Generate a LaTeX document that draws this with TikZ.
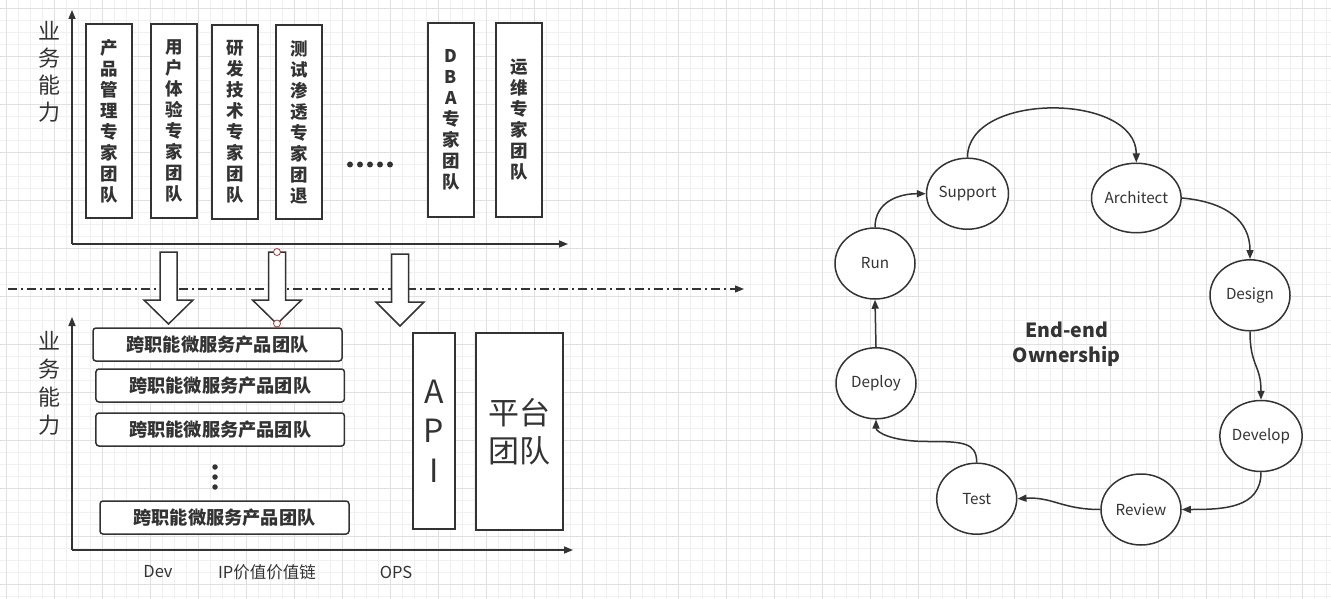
\documentclass[tikz,border=0pt]{standalone}
\usepackage{fontspec}
\setmainfont{Noto Sans CJK SC}
\usetikzlibrary{arrows.meta,shapes.geometric}
\definecolor{ink}{HTML}{333333}
\definecolor{gridminor}{HTML}{F0F0F0}
\definecolor{gridmajor}{HTML}{E0E0E0}
\definecolor{selred}{HTML}{B03030}
\begin{document}
\begin{tikzpicture}[x=1pt,y=-1pt,
  tipline/.style={draw=ink, line width=1.5pt, -{Triangle[length=9pt,width=7pt]}},
  vbox/.style={draw=ink, line width=1.5pt, fill=white, minimum width=46pt, minimum height=194pt, inner sep=0pt, align=center, text=ink, font=\bfseries\fontsize{17.5}{21}\selectfont},
  hbox/.style={draw=ink, line width=1.5pt, fill=white, rounded corners=3pt, minimum width=249pt, minimum height=33pt, inner sep=0pt, text=ink, font=\bfseries\fontsize{18.2}{20}\selectfont},
  tallbox/.style={draw=ink, line width=1.5pt, fill=white, inner sep=0pt, align=center, text=ink},
  blockarrow/.style={draw=ink, line width=1.5pt, fill=white, line join=miter},
  ell/.style={ellipse, draw=ink, line width=1.5pt, fill=white, minimum width=80pt, minimum height=71pt, inner sep=0pt, text=ink, font=\fontsize{15.2}{17}\selectfont},
  flow/.style={draw=ink, line width=1.5pt, -{Triangle[length=9pt,width=7pt]}},
  axislabel/.style={align=center, text=ink, font=\fontsize{22}{27}\selectfont},
  xlabel/.style={text=ink, font=\fontsize{16.5}{18}\selectfont},
  selmark/.style={circle, draw=selred, fill=white, inner sep=0pt, minimum size=7pt, line width=0.8pt},
  dotmark/.style={circle, fill=ink, inner sep=0pt, minimum size=5.5pt}
]
\useasboundingbox (0,0) rectangle (1331,599);
\fill[white] (0,0) rectangle (1331,599);
% grid
\foreach \x in {6,18,...,1330} \draw[gridminor, line width=0.8pt] (\x,0) -- (\x,599);
\foreach \y in {8,20,...,598} \draw[gridminor, line width=0.8pt] (0,\y) -- (1331,\y);
\foreach \x in {6,54,...,1330} \draw[gridmajor, line width=0.9pt] (\x,0) -- (\x,599);
\foreach \y in {8,56,...,598} \draw[gridmajor, line width=0.9pt] (0,\y) -- (1331,\y);

% separator dash-dot line
\coordinate (sepA) at (8,289);
\coordinate (sepB) at (744,289);
\draw[ink, line width=1.3pt, dash pattern=on 9pt off 4pt on 2pt off 4pt, -{Triangle[length=9pt,width=7pt]}] (sepA) -- (sepB);

% top axes
\coordinate (o1) at (72,244);
\coordinate (y1) at (72,10);
\coordinate (x1) at (568,244);
\draw[tipline] (o1) -- (y1);
\draw[tipline] (o1) -- (x1);
\node[axislabel] (lab1) at (49,72) {业\\务\\能\\力};

% top expert boxes
\node[vbox] (b1) at (109,121) {产\\品\\管\\理\\专\\家\\团\\队};
\node[vbox] (b2) at (174,121) {用\\户\\体\\验\\专\\家\\团\\队};
\node[vbox] (b3) at (235,122) {研\\发\\技\\术\\专\\家\\团\\队};
\node[vbox] (b4) at (299,122) {测\\试\\渗\\透\\专\\家\\团\\退};
\node[vbox] (b5) at (451,120) {D\\B\\A\\专\\家\\团\\队};
\node[vbox] (b6) at (519,120) {运\\维\\专\\家\\团\\队};
\foreach \x in {350,360,370,380,390} \node[dotmark, minimum size=6pt] at (\x,164.5) {};

% block arrows
\draw[blockarrow] (160,252) -- (177,252) -- (177,300) -- (193,300) -- (168.5,324) -- (144,300) -- (160,300) -- cycle;
\draw[blockarrow] (268.5,252) -- (285.5,252) -- (285.5,300) -- (301.5,300) -- (277,324) -- (252.5,300) -- (268.5,300) -- cycle;
\draw[blockarrow] (391.5,254) -- (408.5,254) -- (408.5,302) -- (424,302) -- (400,326) -- (376,302) -- (391.5,302) -- cycle;
\node[selmark] (sm1) at (277,252) {};
\node[selmark] (sm2) at (277,323.5) {};

% bottom axes
\coordinate (o2) at (72,550);
\coordinate (y2) at (72,317);
\coordinate (x2) at (573,550);
\draw[tipline] (o2) -- (y2);
\draw[tipline] (o2) -- (x2);
\node[axislabel, font=\fontsize{22}{28}\selectfont] (lab2) at (49,383.5) {业\\务\\能\\力};

% product teams
\node[hbox] (t1) at (217.5,344.5) {跨职能微服务产品团队};
\node[hbox, minimum width=248.5pt] (t2) at (220.2,385.5) {跨职能微服务产品团队};
\node[hbox, minimum width=248.5pt] (t3) at (220.2,429.5) {跨职能微服务产品团队};
\node[hbox] (t4) at (224.5,517.5) {跨职能微服务产品团队};
\node[dotmark] (vd1) at (215,467) {};
\node[dotmark] (vd2) at (215,477) {};
\node[dotmark] (vd3) at (215,487) {};

% API and platform
\node[tallbox, minimum width=42pt, minimum height=196pt, font=\fontsize{32}{39.5}\selectfont] (api) at (434,431) {A\\P\\I};
\node[tallbox, minimum width=87pt, minimum height=197pt, font=\fontsize{31}{38}\selectfont] (plat) at (519.5,431.5) {平台\\团队};

% x labels
\node[xlabel] (ldev) at (158,572) {Dev};
\node[xlabel] (lip) at (267,572) {IP价值价值链};
\node[xlabel] (lops) at (396,572) {OPS};

% cycle
\node[ell] (sup) at (967.5,193.7) {Support};
\node[ell, minimum width=87pt, minimum height=69.5pt] (arc) at (1136.3,198) {Architect};
\node[ell] (des) at (1250,295.3) {Design};
\node[ell] (dev) at (1261,436) {Develop};
\node[ell] (rev) at (1141,509.5) {Review};
\node[ell] (tst) at (976.7,498.7) {Test};
\node[ell] (dep) at (876,383.3) {Deploy};
\node[ell] (run) at (875,263.5) {Run};
\node[text=ink, align=center, font=\bfseries\fontsize{19.5}{24.5}\selectfont] (own) at (1066.7,344) {End-end\\Ownership};

\coordinate (tdmid) at (928,441.5);
\draw[flow] (sup.north) .. controls +(0,-66) and +(0,-70) .. (arc.north);
\draw[flow] (arc.east) .. controls +(45,4) and +(0,-38) .. (des.north);
\draw[flow] (des.south) .. controls +(0,35) and +(0,-35) .. (dev.north);
\draw[flow] (dev.south) .. controls +(0,36) and +(42,0) .. (rev.east);
\draw[flow] (rev.west) .. controls +(-38,0) and +(35,-2) .. (tst.east);
\draw[flow] (tst.north) .. controls +(0,-20) and +(35,0) .. (tdmid) .. controls +(-38,0) and +(0,12) .. (dep.south);
\draw[flow] (dep.north) -- (run.south);
\draw[flow] (run.north) .. controls +(0,-26) and +(-26,0) .. (sup.west);
\end{tikzpicture}
\end{document}
